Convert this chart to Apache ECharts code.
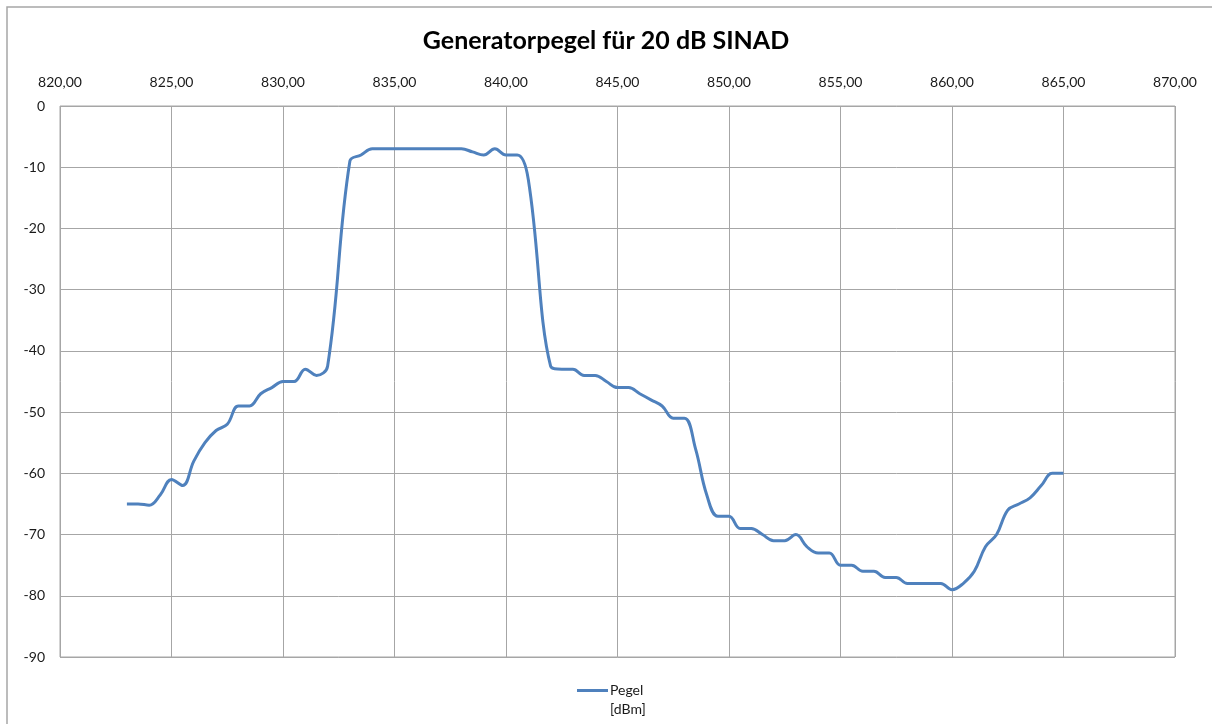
<!DOCTYPE html>
<html>
<head>
<meta charset="utf-8">
<title>Generatorpegel</title>
<script src="https://cdn.jsdelivr.net/npm/echarts@6/dist/echarts.min.js"></script>
<style>
  html, body { margin: 0; padding: 0; background: #fff; }
  #chart { width: 1212px; height: 724px; }
</style>
</head>
<body>
<div id="chart"></div>
<script>
// Frequenz in MHz
var freq = [823, 823.5, 824, 824.5, 825, 825.5, 826, 826.5, 827, 827.5,
  828, 828.5, 829, 829.5, 830, 830.5, 831, 831.5, 832, 833,
  833.5, 834, 834.5, 835, 836, 837, 838, 838.5, 839, 839.5,
  840, 840.5, 841, 842, 842.5, 843, 843.5, 844, 844.5, 845,
  845.5, 846, 846.5, 847, 847.5, 848, 848.5, 849, 849.5, 850,
  850.5, 851, 851.5, 852, 852.5, 853, 853.5, 854, 854.5, 855,
  855.5, 856, 856.5, 857, 857.5, 858, 858.5, 859, 859.5, 860,
  860.5, 861, 861.5, 862, 862.5, 863, 863.5, 864, 864.5, 865];
// Pegel in dBm
var pegel = [-65, -65, -65.2, -63.5, -61, -62, -58, -55, -53, -52,
  -49, -49, -47, -46, -45, -45, -43, -44, -42.5, -9,
  -8, -7, -7, -7, -7, -7, -7, -7.5, -8, -7,
  -8, -8, -12, -42.5, -43, -43, -44, -44, -45, -46,
  -46, -47, -48, -49, -51, -51, -56, -63.5, -67, -67,
  -69, -69, -70, -71, -71, -70, -72, -73, -73, -75,
  -75, -76, -76, -77, -77, -78, -78, -78, -78, -79,
  -78, -76, -72, -70, -66, -65, -64, -62, -60, -60];
var xTicks = [820, 825, 830, 835, 840, 845, 850, 855, 860, 865, 870];
var yTicks = [0, -10, -20, -30, -40, -50, -60, -70, -80, -90];

var points = [];
for (var i = 0; i < freq.length; i++) {
  points.push([freq[i], pegel[i]]);
}

var myChart = echarts.init(document.getElementById('chart'));
var gridColor = '#a6a6a6';
var option = {
  backgroundColor: '#fff',
  animation: false,
  textStyle: { fontFamily: 'Lato, sans-serif' },
  title: {
    text: 'Generatorpegel für 20 dB SINAD',
    left: 'center',
    top: 23,
    textStyle: { fontFamily: 'Lato', fontSize: 25, fontWeight: 'bold', color: '#000' }
  },
  // Rahmen oben und links
  graphic: [{
    type: 'polyline',
    shape: { points: [[7, 730], [7, 7], [1220, 7]] },
    style: { fill: null, stroke: gridColor, lineWidth: 1.5 },
    silent: true
  }],
  grid: { left: 60, right: 37, top: 106, bottom: 67, show: true, borderColor: gridColor, borderWidth: 1 },
  legend: {
    left: 572,
    top: 657,
    icon: 'rect',
    itemWidth: 31,
    itemHeight: 3,
    selectedMode: false,
    // leere erste Zeile, damit "Pegel" auf Höhe der Linie steht
    formatter: function (name) { return '\n' + name; },
    textStyle: { fontFamily: 'Lato', fontSize: 14, color: '#1a1a1a', lineHeight: 19, padding: [0, 0, 0, -3] },
    data: [{ name: 'Pegel\n[dBm]' }]
  },
  xAxis: {
    type: 'value',
    position: 'top',
    min: xTicks[0],
    max: xTicks[xTicks.length - 1],
    interval: 5,
    axisLine: { show: false },
    axisTick: { show: false },
    splitLine: { show: true, lineStyle: { color: gridColor, width: 1 } },
    axisLabel: {
      margin: 17,
      fontSize: 14,
      color: '#1a1a1a',
      formatter: function (v) { return v.toFixed(2).replace('.', ','); }
    }
  },
  yAxis: {
    type: 'value',
    min: yTicks[yTicks.length - 1],
    max: yTicks[0],
    interval: 10,
    axisLine: { show: false },
    axisTick: { show: false },
    splitLine: { show: true, lineStyle: { color: gridColor, width: 1 } },
    axisLabel: { margin: 15, fontSize: 14, color: '#1a1a1a' }
  },
  series: [{
    name: 'Pegel\n[dBm]',
    type: 'line',
    data: points,
    smooth: 0.4,
    symbol: 'none',
    lineStyle: { color: '#4f81bd', width: 3 },
    itemStyle: { color: '#4f81bd' }
  }]
};
myChart.setOption(option);
</script>
</body>
</html>
